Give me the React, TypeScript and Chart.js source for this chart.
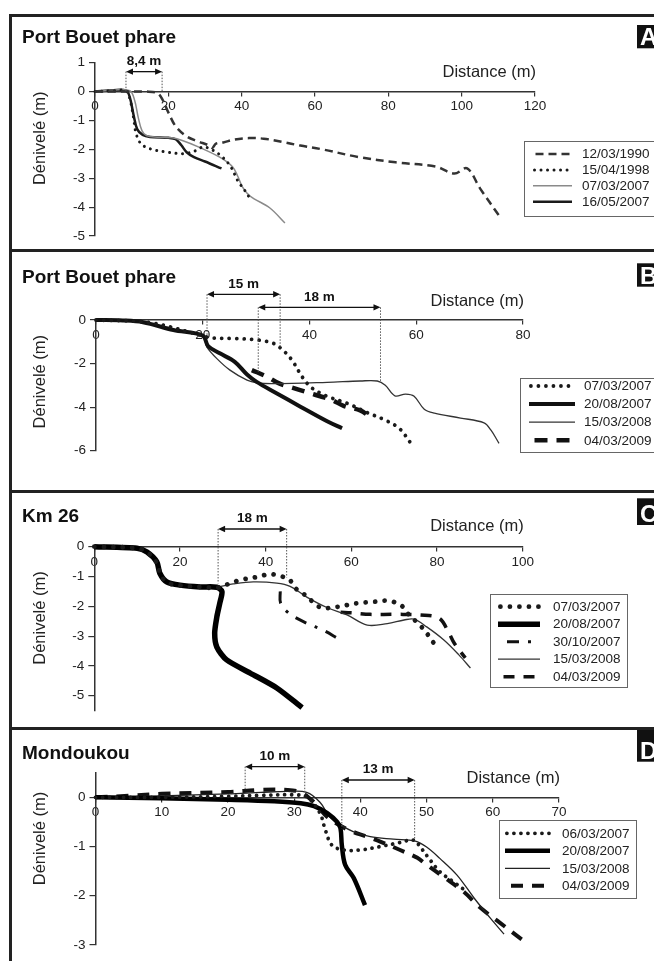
import React, { useEffect, useRef } from "react";
import { Chart, registerables } from "chart.js";
Chart.register(...registerables);

type Pt = [number, number];
type Span = { label: string; x1: number; x2: number; y: number; yl: number; yr: number };

const FONT = "'Liberation Sans', Arial, Helvetica, sans-serif";

// ---------------- Panel A : Port Bouet phare ----------------
const aXTicks = [0, 20, 40, 60, 80, 100, 120];
const aYTicks = [-5, -4, -3, -2, -1, 0, 1];
const aLabels = ["12/03/1990", "15/04/1998", "07/03/2007", "16/05/2007"];
const a1990: Pt[] = [[0, 0], [8, 0], [14, 0], [17, -0.05], [18.5, -0.3], [20, -0.72], [22, -1.2], [25, -1.55], [28, -1.72], [31, -1.86], [32, -1.95], [33, -1.8], [35, -1.76], [38, -1.66], [42, -1.61], [46, -1.63], [51, -1.74], [56, -1.87], [62, -2.0], [72, -2.27], [82, -2.45], [93, -2.6], [98, -2.84], [101.5, -2.66], [105, -3.35], [110.5, -4.35]];
const a1998: Pt[] = [[0, 0], [5, 0.03], [8.5, 0.02], [9.6, -0.3], [10.5, -0.9], [11.2, -1.45], [12.5, -1.8], [15, -1.98], [20, -2.1], [24, -2.15], [27, -2.07], [29.5, -1.92], [32, -2.02], [34.6, -2.25], [37, -2.6], [39, -3.1], [41, -3.45], [42, -3.65]];
const a2007a: Pt[] = [[0, 0], [5, 0.05], [9.5, 0.03], [10.8, -0.3], [11.8, -0.9], [12.8, -1.35], [14, -1.52], [17, -1.58], [21, -1.6], [24, -1.7], [28.5, -1.93], [34, -2.27], [37.5, -2.6], [39, -2.95], [40.2, -3.3], [42.3, -3.62], [47.7, -4.03], [51.8, -4.55]];
const a2007b: Pt[] = [[0, 0], [5, 0.05], [8.5, 0.03], [9.5, -0.2], [10.5, -0.8], [11.5, -1.3], [13, -1.5], [15, -1.57], [20, -1.6], [22, -1.65], [23.5, -1.85], [25, -2.1], [27, -2.27], [30, -2.42], [34.5, -2.66]];
const aSpans: Span[] = [{ label: "8,4 m", x1: 8.45, x2: 18.3, y: 0.69, yl: 0, yr: 0 }];

// ---------------- Panel B : Port Bouet phare ----------------
const bXTicks = [0, 20, 40, 60, 80];
const bYTicks = [-6, -4, -2, 0];
const bLabels = ["07/03/2007", "20/08/2007", "15/03/2008", "04/03/2009"];
const b2007a: Pt[] = [[0, 0], [10, -0.12], [20, -0.72], [21.5, -0.82], [25.7, -0.85], [30.4, -0.92], [33.2, -1.07], [35, -1.38], [36.7, -1.84], [38.8, -2.67], [40.5, -3.13], [43.3, -3.5], [47, -3.82], [50.8, -4.25], [54.2, -4.6], [56.8, -4.97], [59, -5.66]];
const b2007b: Pt[] = [[0, 0], [5, -0.02], [8.8, -0.1], [14.5, -0.46], [20, -0.72], [21, -1.2], [23.2, -1.53], [26, -1.92], [28.3, -2.5], [30.1, -2.84], [33.9, -3.37], [38.3, -3.98], [43.3, -4.65], [46.1, -4.97]];
const b2008: Pt[] = [[0, 0], [8.8, -0.1], [14.5, -0.46], [20, -0.75], [20.75, -1.23], [22.6, -1.76], [25.1, -2.3], [28.3, -2.76], [30.1, -2.88], [33.2, -2.92], [43.3, -2.86], [49.5, -2.8], [52.7, -2.8], [54.2, -3.0], [56, -3.48], [58, -3.4], [59.6, -3.5], [61.5, -4.1], [63.4, -4.28], [68.3, -4.5], [72.7, -4.72], [74, -5.06], [75.5, -5.66]];
const b2009: Pt[] = [[29.2, -2.3], [32, -2.6], [34.2, -2.9], [36.4, -3.08], [40.1, -3.36], [42, -3.5], [44, -3.65], [46.5, -3.95], [49.5, -4.15], [51.5, -4.48]];
const bSpans: Span[] = [
  { label: "15 m", x1: 20.8, x2: 34.5, y: 1.18, yl: -0.7, yr: -1.23 },
  { label: "18 m", x1: 30.4, x2: 53.3, y: 0.58, yl: -2.4, yr: -2.84 },
];

// ---------------- Panel C : Km 26 ----------------
const cXTicks = [0, 20, 40, 60, 80, 100];
const cYTicks = [-5, -4, -3, -2, -1, 0];
const cLabels = ["07/03/2007", "20/08/2007", "30/10/2007", "15/03/2008", "04/03/2009"];
const c2007a: Pt[] = [[0, 0], [10, -0.05], [12.3, -0.18], [14.6, -0.55], [15.5, -0.95], [17, -1.2], [20, -1.3], [25, -1.35], [28.5, -1.38], [31.7, -1.23], [34, -1.12], [37.9, -1.02], [41, -0.92], [43.3, -0.98], [45.5, -1.1], [47, -1.4], [49, -1.6], [51, -1.85], [53, -2.05], [56.6, -2.02], [61.2, -1.9], [65.2, -1.85], [69, -1.82], [71.8, -1.99], [73, -2.22], [76, -2.63], [77.6, -2.9], [79, -3.19], [80.5, -3.4]];
const c2007b: Pt[] = [[0, 0], [10, -0.05], [12.3, -0.18], [14.6, -0.51], [15.3, -0.89], [16.9, -1.18], [20, -1.29], [24.7, -1.35], [28.6, -1.36], [29.8, -1.5], [29.3, -1.89], [28.6, -2.36], [28.1, -2.9], [28.6, -3.37], [30.9, -3.8], [36.4, -4.24], [42.6, -4.74], [48.5, -5.4]];
const c1030: Pt[] = [[43.4, -1.5], [43.5, -1.9], [45.6, -2.25], [49.6, -2.57], [53.4, -2.8], [57.1, -3.1]];
const c2008: Pt[] = [[0, 0], [10, -0.05], [12.3, -0.18], [14.6, -0.51], [15.3, -0.89], [16.9, -1.15], [20, -1.25], [24.7, -1.33], [28.6, -1.35], [32.4, -1.25], [37.1, -1.18], [42.6, -1.22], [45.7, -1.33], [49.6, -1.69], [54.3, -2.04], [59, -2.29], [63.7, -2.63], [68.4, -2.58], [72.3, -2.46], [74.6, -2.43], [77.6, -2.69], [81.6, -3.13], [85.1, -3.63], [87.8, -4.07]];
const c2009: Pt[] = [[57.5, -2.2], [60, -2.22], [64.4, -2.27], [70.7, -2.27], [76, -2.29], [80.5, -2.4], [82.8, -2.9], [84, -3.23], [86.6, -3.73]];
const cSpans: Span[] = [{ label: "18 m", x1: 28.9, x2: 44.9, y: 0.594, yl: -1.23, yr: -1.03 }];

// ---------------- Panel D : Mondoukou ----------------
const dXTicks = [0, 10, 20, 30, 40, 50, 60, 70];
const dYTicks = [-3, -2, -1, 0];
const dLabels = ["06/03/2007", "20/08/2007", "15/03/2008", "04/03/2009"];
const d2007a: Pt[] = [[0, 0], [10, 0], [20, 0.02], [25, 0.04], [30, 0.05], [32, 0.0], [33.9, -0.32], [34.7, -0.66], [35.7, -0.97], [37.5, -1.07], [40, -1.07], [43, -1.0], [45.6, -0.93], [48.1, -0.87], [49, -1.0], [50.3, -1.23], [52, -1.51], [54.1, -1.72], [55.7, -1.88]];
const d2007b: Pt[] = [[0, 0], [10, -0.02], [20, -0.05], [27, -0.08], [31, -0.12], [33, -0.18], [35, -0.32], [36.5, -0.5], [37, -0.63], [37.2, -0.97], [37.7, -1.37], [39, -1.64], [40.7, -2.19]];
const d2008: Pt[] = [[0, 0], [10, 0.03], [20, 0.07], [25, 0.1], [29, 0.12], [31.9, 0.1], [33.9, -0.1], [35.4, -0.4], [37, -0.56], [39, -0.7], [41.5, -0.8], [45, -0.85], [48.3, -0.89], [50, -1.01], [52, -1.24], [54.6, -1.58], [57.2, -2.05], [59.6, -2.45], [61.7, -2.78]];
const d2009: Pt[] = [[0, 0], [5, 0.03], [10, 0.07], [20, 0.11], [25, 0.15], [29, 0.15], [31, 0.1], [33, -0.1], [35, -0.4], [38, -0.65], [41, -0.8], [43, -0.9], [46, -1.07], [48.6, -1.23], [50, -1.37], [52.6, -1.62], [55.7, -1.93], [58, -2.23], [61, -2.54], [64.5, -2.9]];
const dSpans: Span[] = [
  { label: "10 m", x1: 22.6, x2: 31.6, y: 0.622, yl: 0.15, yr: 0.11 },
  { label: "13 m", x1: 37.2, x2: 48.2, y: 0.352, yl: -0.63, yr: -0.87 },
];

// ---------------- styles / layout ----------------
type Style = { color: string; width: number; dash: number[]; tension?: number; cap?: "butt" | "round" };
type PanelCfg = {
  title: string; letter: string; top: number; height: number;
  left: number; right: number; plotTop: number; plotBottom: number;
  xMax: number; yMin: number; yMax: number; xTicks: number[]; yTicks: number[];
  series: Pt[][]; labels: string[]; styles: Style[]; spans: Span[];
  titleBase: number; letterBox: [number, number]; xTitleBase: number; yTitleMid: number;
  legend: { x: number; top: number; right: number; bottom: number; row0: number; step: number; s1: number; s2: number; tx: number };
};

// round dots: tiny dash + round cap
const DOT = (w: number, period: number): Style => ({ color: "#1a1a1a", width: w, dash: [0.01, period], cap: "round" });

const panels: PanelCfg[] = [
  {
    title: "Port Bouet phare", letter: "A", top: 0, height: 249,
    left: 95, right: 535, plotTop: 62.7, plotBottom: 236,
    xMax: 120, yMin: -5, yMax: 1, xTicks: aXTicks, yTicks: aYTicks,
    series: [a1990, a1998, a2007a, a2007b], labels: aLabels,
    styles: [
      { color: "#333", width: 2.5, dash: [8, 5] },
      DOT(3, 6.5),
      { color: "#8a8a8a", width: 1.5, dash: [] },
      { color: "#1a1a1a", width: 2.5, dash: [] },
    ],
    spans: aSpans, titleBase: 42.7, letterBox: [25, 48.3], xTitleBase: 76.5, yTitleMid: 138.3,
    legend: { x: 524, top: 141, right: 700, bottom: 216, row0: 154, step: 15.9, s1: 533, s2: 572, tx: 582 },
  },
  {
    title: "Port Bouet phare", letter: "B", top: 252, height: 238,
    left: 96, right: 523, plotTop: 320, plotBottom: 450.7,
    xMax: 80, yMin: -6, yMax: 0, xTicks: bXTicks, yTicks: bYTicks,
    series: [b2007a, b2007b, b2008, b2009], labels: bLabels,
    styles: [
      DOT(3.8, 7.5),
      { color: "#111", width: 4, dash: [] },
      { color: "#333", width: 1.3, dash: [] },
      { color: "#111", width: 4.5, dash: [13, 9] },
    ],
    spans: bSpans, titleBase: 283.3, letterBox: [263.3, 286.7], xTitleBase: 305.5, yTitleMid: 381.7,
    legend: { x: 520, top: 378, right: 700, bottom: 452, row0: 386, step: 18.1, s1: 529, s2: 575, tx: 584 },
  },
  {
    title: "Km 26", letter: "C", top: 493, height: 234,
    left: 94.3, right: 522.7, plotTop: 546.7, plotBottom: 710.6,
    xMax: 100, yMin: -5.5, yMax: 0, xTicks: cXTicks, yTicks: cYTicks,
    series: [c2007a, c2007b, c1030, c2008, c2009], labels: cLabels,
    styles: [
      DOT(4.8, 9.5),
      { color: "#000", width: 5.5, dash: [], tension: 0.25 },
      { color: "#111", width: 3, dash: [12, 9, 3, 9] },
      { color: "#333", width: 1.3, dash: [] },
      { color: "#111", width: 3.5, dash: [11, 9] },
    ],
    spans: cSpans, titleBase: 521.7, letterBox: [498.3, 525], xTitleBase: 531.3, yTitleMid: 618,
    legend: { x: 490, top: 594, right: 627, bottom: 687, row0: 606.7, step: 17.5, s1: 498, s2: 540, tx: 553 },
  },
  {
    title: "Mondoukou", letter: "D", top: 730, height: 231,
    left: 95.5, right: 559, plotTop: 772.7, plotBottom: 945,
    xMax: 70, yMin: -3, yMax: 0.5, xTicks: dXTicks, yTicks: dYTicks,
    series: [d2007a, d2007b, d2008, d2009], labels: dLabels,
    styles: [
      DOT(3.8, 7),
      { color: "#000", width: 4.5, dash: [] },
      { color: "#222", width: 1.3, dash: [] },
      { color: "#111", width: 4, dash: [12, 9] },
    ],
    spans: dSpans, titleBase: 759.3, letterBox: [730, 761.7], xTitleBase: 783, yTitleMid: 838.5,
    legend: { x: 499, top: 820, right: 636, bottom: 898, row0: 833.3, step: 17.5, s1: 505, s2: 550, tx: 562 },
  },
];

const AXIS = "#333";

function extrasPlugin(p: PanelCfg) {
  return {
    id: "extras" + p.letter,
    afterDraw(chart: any) {
      const ctx: CanvasRenderingContext2D = chart.ctx;
      const xs = chart.scales.x;
      const ys = chart.scales.y;
      const oy = p.top;
      ctx.save();
      // title
      ctx.fillStyle = "#111";
      ctx.font = `bold 19px ${FONT}`;
      ctx.textAlign = "left";
      ctx.textBaseline = "alphabetic";
      ctx.fillText(p.title, 22, p.titleBase - oy);
      // letter box
      ctx.fillStyle = "#111";
      ctx.fillRect(637, p.letterBox[0] - oy, 40, p.letterBox[1] - p.letterBox[0]);
      ctx.fillStyle = "#fff";
      ctx.font = `bold 24px ${FONT}`;
      ctx.fillText(p.letter, 640, p.letterBox[1] - oy - 3);
      // axis titles
      ctx.fillStyle = "#222";
      ctx.font = `16.5px ${FONT}`;
      ctx.textAlign = "right";
      ctx.fillText("Distance (m)", xs.right + 1, p.xTitleBase - oy);
      ctx.save();
      ctx.translate(40, p.yTitleMid - oy);
      ctx.rotate(-Math.PI / 2);
      ctx.textAlign = "center";
      ctx.textBaseline = "middle";
      ctx.fillText("Dénivelé (m)", 0, 0);
      ctx.restore();
      // dimension spans
      for (const s of p.spans) {
        const x1 = xs.getPixelForValue(s.x1);
        const x2 = xs.getPixelForValue(s.x2);
        const ya = ys.getPixelForValue(s.y);
        ctx.strokeStyle = "#555";
        ctx.lineWidth = 1;
        ctx.setLineDash([1.5, 1.5]);
        ctx.beginPath();
        ctx.moveTo(x1, ya);
        ctx.lineTo(x1, ys.getPixelForValue(s.yl));
        ctx.moveTo(x2, ya);
        ctx.lineTo(x2, ys.getPixelForValue(s.yr));
        ctx.stroke();
        ctx.setLineDash([]);
        ctx.strokeStyle = "#111";
        ctx.lineWidth = 1.3;
        ctx.beginPath();
        ctx.moveTo(x1 + 4, ya);
        ctx.lineTo(x2 - 4, ya);
        ctx.stroke();
        ctx.fillStyle = "#111";
        ctx.beginPath();
        ctx.moveTo(x1, ya);
        ctx.lineTo(x1 + 7, ya - 3.2);
        ctx.lineTo(x1 + 7, ya + 3.2);
        ctx.closePath();
        ctx.moveTo(x2, ya);
        ctx.lineTo(x2 - 7, ya - 3.2);
        ctx.lineTo(x2 - 7, ya + 3.2);
        ctx.closePath();
        ctx.fill();
        ctx.font = `bold 13.5px ${FONT}`;
        ctx.textAlign = "center";
        ctx.textBaseline = "alphabetic";
        ctx.fillText(s.label, (x1 + x2) / 2, ya - 6.5);
      }
      // legend
      const L = p.legend;
      ctx.fillStyle = "#fff";
      ctx.fillRect(L.x, L.top - oy, L.right - L.x, L.bottom - L.top);
      ctx.strokeStyle = "#666";
      ctx.lineWidth = 1;
      ctx.strokeRect(L.x + 0.5, L.top - oy + 0.5, L.right - L.x, L.bottom - L.top);
      p.labels.forEach((lab, i) => {
        const st = p.styles[i];
        const ry = L.row0 + i * L.step - oy;
        ctx.strokeStyle = st.color;
        ctx.lineWidth = st.width;
        ctx.setLineDash(st.dash);
        ctx.lineCap = st.cap ?? "butt";
        let x1 = L.s1 + (st.cap === "round" ? st.width / 2 : 0);
        let x2 = L.s2;
        if (st.dash.length && st.cap !== "round") {
          // fit whole dashes into the sample
          const period = st.dash.reduce((a, b) => a + b, 0);
          const len = x2 - x1;
          const n = Math.max(1, Math.floor((len + st.dash[st.dash.length - 1]) / period));
          const used = n * period - st.dash[st.dash.length - 1];
          const shift = (len - used) / 2;
          x1 += shift;
          x2 = x1 + used;
        }
        ctx.beginPath();
        ctx.moveTo(x1, ry);
        ctx.lineTo(x2, ry);
        ctx.stroke();
        ctx.setLineDash([]);
        ctx.lineCap = "butt";
        ctx.fillStyle = "#222";
        ctx.font = `13.5px ${FONT}`;
        ctx.textAlign = "left";
        ctx.textBaseline = "middle";
        ctx.fillText(lab, L.tx, ry + 0.5);
      });
      ctx.restore();
    },
  };
}

function Panel({ p }: { p: PanelCfg }) {
  const ref = useRef<HTMLCanvasElement>(null);
  useEffect(() => {
    const tickFont = { size: 13.5, family: FONT };
    const chart = new Chart(ref.current as HTMLCanvasElement, {
      type: "line",
      data: {
        datasets: p.series.map((s, i) => ({
          label: p.labels[i],
          data: s.map(([x, y]) => ({ x, y })),
          borderColor: p.styles[i].color,
          borderWidth: p.styles[i].width,
          borderDash: p.styles[i].dash,
          borderCapStyle: p.styles[i].cap ?? "butt",
          pointRadius: 0,
          fill: false,
          tension: p.styles[i].tension ?? 0.35,
          borderJoinStyle: "round" as const,
          clip: false as any,
        })),
      },
      options: {
        animation: false,
        responsive: false,
        devicePixelRatio: 1,
        events: [],
        layout: {
          padding: {
            left: 0,
            right: 654 - p.right,
            top: p.plotTop - p.top,
            bottom: p.top + p.height - p.plotBottom,
          },
        },
        plugins: { legend: { display: false }, tooltip: { enabled: false } },
        scales: {
          x: {
            type: "linear",
            min: 0,
            max: p.xMax,
            position: { y: 0 } as any,
            afterBuildTicks: (s: any) => { s.ticks = p.xTicks.map((v) => ({ value: v })); },
            afterFit: (s: any) => { s.height = 0; },
            grid: { drawOnChartArea: false, drawTicks: true, tickLength: 4, color: AXIS, lineWidth: 1.2 },
            border: { display: true, color: AXIS, width: 1.5 },
            ticks: { autoSkip: false, maxRotation: 0, padding: 3, color: "#222", font: tickFont },
          },
          y: {
            type: "linear",
            min: p.yMin,
            max: p.yMax,
            position: "left",
            afterBuildTicks: (s: any) => { s.ticks = p.yTicks.map((v) => ({ value: v })); },
            afterFit: (s: any) => { s.width = p.left; },
            grid: { drawOnChartArea: false, drawTicks: true, tickLength: 6, color: AXIS, lineWidth: 1.2 },
            border: { display: true, color: AXIS, width: 1.5 },
            ticks: { autoSkip: false, padding: 4, color: "#222", font: tickFont },
          },
        },
      } as any,
      plugins: [extrasPlugin(p)],
    });
    return () => chart.destroy();
  }, []);
  return (
    <canvas
      ref={ref}
      width={654}
      height={p.height}
      style={{ position: "absolute", left: 0, top: p.top, width: 654, height: p.height }}
    />
  );
}

export default function App() {
  const line = (s: React.CSSProperties) => (
    <div style={{ position: "absolute", background: "#222", ...s }} />
  );
  return (
    <div style={{ position: "absolute", left: 0, top: 0, width: 654, height: 961, overflow: "hidden", background: "#fff" }}>
      {panels.map((p) => (
        <Panel key={p.letter} p={p} />
      ))}
      {line({ left: 9, top: 14, width: 645, height: 3 })}
      {line({ left: 9, top: 14, width: 3, height: 947 })}
      {line({ left: 9, top: 249, width: 645, height: 3 })}
      {line({ left: 9, top: 490, width: 645, height: 3 })}
      {line({ left: 9, top: 727, width: 645, height: 3 })}
    </div>
  );
}
